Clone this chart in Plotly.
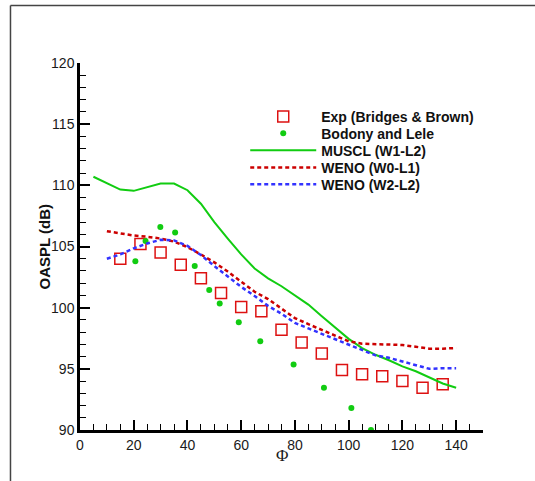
import plotly.graph_objects as go

# Experimental data (Bridges & Brown)
exp_phi = [15, 22.5, 30, 37.5, 45, 52.5, 60, 67.5, 75, 82.5, 90, 97.5, 105, 112.5, 120, 127.5, 135]
exp_oaspl = [104.0, 105.2, 104.5, 103.5, 102.4, 101.2, 100.05, 99.7, 98.2, 97.15, 96.25, 94.9, 94.55, 94.4, 94.0, 93.45, 93.75]

# Bodony and Lele
bl_phi = [20.6, 24.4, 29.9, 35.4, 42.7, 48.1, 52.0, 59.1, 67.1, 79.5, 90.8, 101.0, 108.3]
bl_oaspl = [103.8, 105.45, 106.6, 106.15, 103.4, 101.45, 100.35, 98.8, 97.25, 95.35, 93.45, 91.8, 90.0]

# MUSCL (W1-L2)
muscl_phi = [5, 10, 15, 20, 25, 30, 35, 40, 45, 50, 55, 60, 65, 70, 75, 80, 85, 90, 95, 100, 105, 110, 115, 120, 125, 130, 135, 140]
muscl_oaspl = [110.7, 110.15, 109.65, 109.55, 109.85, 110.15, 110.15, 109.6, 108.5, 107.0, 105.65, 104.35, 103.2, 102.4, 101.75, 101.0, 100.25, 99.3, 98.4, 97.45, 96.7, 96.15, 95.7, 95.2, 94.8, 94.3, 93.8, 93.45]

# WENO (W0-L1)
w0_phi = [10, 15, 20, 25, 30, 35, 40, 45, 50, 55, 60, 65, 70, 75, 80, 85, 90, 95, 100, 105, 110, 115, 120, 125, 130, 135, 140]
w0_oaspl = [106.25, 106.05, 105.9, 105.8, 105.65, 105.4, 104.95, 104.35, 103.7, 102.95, 102.1, 101.3, 100.7, 99.95, 99.15, 98.65, 98.2, 97.7, 97.25, 97.05, 97.0, 97.0, 96.95, 96.8, 96.65, 96.65, 96.7]

# WENO (W2-L2)
w2_phi = [10, 15, 20, 25, 30, 35, 40, 45, 50, 55, 60, 65, 70, 75, 80, 85, 90, 95, 100, 105, 110, 115, 120, 125, 130, 135, 140]
w2_oaspl = [104.0, 104.35, 104.85, 105.25, 105.55, 105.5, 105.05, 104.3, 103.4, 102.55, 101.7, 100.95, 100.15, 99.5, 98.75, 98.3, 97.85, 97.4, 97.0, 96.55, 96.1, 95.9, 95.6, 95.3, 95.0, 95.05, 95.05]

fig = go.Figure()
fig.add_trace(go.Scatter(x=exp_phi, y=exp_oaspl, mode="markers", name="Exp (Bridges & Brown)", legend="legend",
                         marker=dict(symbol="square-open", size=11, color="#dd1111", line=dict(width=1.5))))
fig.add_trace(go.Scatter(x=bl_phi, y=bl_oaspl, mode="markers", name="Bodony and Lele", legend="legend2",
                         marker=dict(symbol="circle", size=6, color="#11cc11")))
fig.add_trace(go.Scatter(x=muscl_phi, y=muscl_oaspl, mode="lines", name="MUSCL (W1-L2)", legend="legend3",
                         line=dict(color="#11cc11", width=2)))
fig.add_trace(go.Scatter(x=w0_phi, y=w0_oaspl, mode="lines", name="WENO (W0-L1)", legend="legend4",
                         line=dict(color="#cc0000", width=2.5, dash="4px,3px")))
fig.add_trace(go.Scatter(x=w2_phi, y=w2_oaspl, mode="lines", name="WENO (W2-L2)", legend="legend5",
                         line=dict(color="#3333ff", width=2.5, dash="4px,3px")))

axis_font = dict(family="Liberation Sans, Arial", size=14, color="#1a1a1a")
leg_font = dict(family="Liberation Sans, Arial", size=14, color="#111111", weight="bold")


def leg(y):
    return dict(x=0.41, y=y, xanchor="left", yanchor="top", font=leg_font,
                bgcolor="rgba(0,0,0,0)", itemwidth=66)


fig.update_layout(
    width=535, height=481,
    margin=dict(l=80, r=52, t=63, b=51),
    paper_bgcolor="white", plot_bgcolor="white",
    showlegend=True,
    legend=leg(0.897),
    legend2=leg(0.851),
    legend3=leg(0.805),
    legend4=leg(0.758),
    legend5=leg(0.712),
    xaxis=dict(range=[0, 150], tickvals=[0, 20, 40, 60, 80, 100, 120, 140],
               ticks="inside", ticklen=10, tickwidth=2, tickcolor="black",
               showline=True, linecolor="black", linewidth=2.5,
               showgrid=False, zeroline=False, tickfont=axis_font,
               minor=dict(dtick=5, tick0=0, ticks="inside", ticklen=6, tickwidth=1.2, tickcolor="black")),
    yaxis=dict(range=[90, 120], tickvals=[90, 95, 100, 105, 110, 115, 120],
               ticks="inside", ticklen=10, tickwidth=2, tickcolor="black",
               showline=True, linecolor="black", linewidth=2.5,
               showgrid=False, zeroline=False, tickfont=axis_font,
               minor=dict(dtick=1, tick0=90, ticks="inside", ticklen=6, tickwidth=1.2, tickcolor="black")),
    annotations=[
        dict(text="Φ", xref="paper", yref="paper", x=0.5, y=-0.07, xanchor="center", yanchor="middle",
             showarrow=False, font=dict(family="Liberation Serif, Times New Roman", size=17, color="#1a1a1a")),
        dict(text="OASPL (dB)", xref="paper", yref="paper", x=-0.0893, y=0.5, xanchor="center", yanchor="middle",
             textangle=-90, showarrow=False,
             font=dict(family="Liberation Sans, Arial", size=15, color="#111111", weight="bold")),
    ],
    shapes=[
        dict(type="line", xref="paper", yref="paper", x0=-0.1725, x1=-0.1725, y0=-0.14, y1=1.157,
             line=dict(color="#444444", width=1.5)),
        dict(type="line", xref="paper", yref="paper", x0=-0.1725, x1=1.14, y0=1.157, y1=1.157,
             line=dict(color="#444444", width=1.5)),
    ],
)

fig.write_html("out.html")
